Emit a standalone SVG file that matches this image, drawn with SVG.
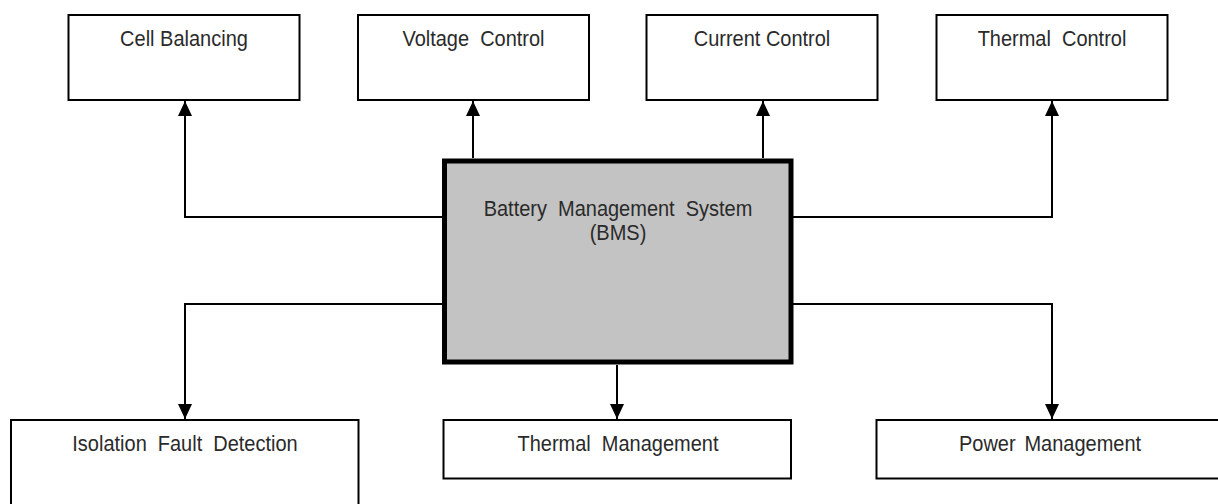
<svg xmlns="http://www.w3.org/2000/svg" width="1218" height="504" viewBox="0 0 1218 504">
  <style>
    .box { fill: #ffffff; stroke: #000000; stroke-width: 2; }
    .main { fill: #c3c3c3; stroke: #000000; stroke-width: 5; }
    .lbl { font-family: "Liberation Sans", Arial, sans-serif; font-size: 21.5px; fill: #2a2a2a; text-anchor: middle; }
    .ws { word-spacing: 5.9px; }
    .ws2 { word-spacing: 3.5px; }
    .conn { fill: none; stroke: #000000; stroke-width: 2; marker-end: url(#arrow); }
  </style>
  <defs>
    <marker id="arrow" markerUnits="userSpaceOnUse" markerWidth="15" markerHeight="14" refX="15" refY="7" orient="auto">
      <path d="M0,0 L15,7 L0,14 Z" fill="#000000"/>
    </marker>
  </defs>
  <rect x="0" y="0" width="1218" height="504" fill="#ffffff"/>

  <g id="connectors">
    <path class="conn" d="M442,217 H185 V101"/>
    <path class="conn" d="M473,158 V101"/>
    <path class="conn" d="M763,158 V101"/>
    <path class="conn" d="M793,217 H1052 V101"/>
    <path class="conn" d="M442,304 H185 V419"/>
    <path class="conn" d="M617,365 V419"/>
    <path class="conn" d="M793,304 H1052 V419"/>
  </g>

  <g id="cell-balancing">
    <rect class="box" x="68.5" y="15" width="231" height="85"/>
    <text class="lbl" transform="matrix(0.93 0 0 1 184 46)">Cell Balancing</text>
  </g>
  <g id="voltage-control">
    <rect class="box" x="358" y="15" width="231" height="85"/>
    <text class="lbl ws" transform="matrix(0.93 0 0 1 473.5 46)">Voltage Control</text>
  </g>
  <g id="current-control">
    <rect class="box" x="646.5" y="15" width="231" height="85"/>
    <text class="lbl" transform="matrix(0.93 0 0 1 762 46)">Current Control</text>
  </g>
  <g id="thermal-control">
    <rect class="box" x="936.5" y="15" width="231" height="85"/>
    <text class="lbl ws" transform="matrix(0.93 0 0 1 1052 46)">Thermal Control</text>
  </g>

  <g id="bms">
    <rect class="main" x="444.5" y="161" width="346.5" height="201"/>
    <text class="lbl ws" transform="matrix(0.93 0 0 1 618 215.5)">Battery Management System</text>
    <text class="lbl" transform="matrix(0.93 0 0 1 618 240)">(BMS)</text>
  </g>

  <g id="isolation-fault-detection">
    <rect class="box" x="11" y="420" width="347.5" height="120"/>
    <text class="lbl ws" transform="matrix(0.93 0 0 1 185 451)">Isolation Fault Detection</text>
  </g>
  <g id="thermal-management">
    <rect class="box" x="443.5" y="420" width="347.5" height="58.5"/>
    <text class="lbl ws" transform="matrix(0.93 0 0 1 618 451)">Thermal Management</text>
  </g>
  <g id="power-management">
    <rect class="box" x="876.5" y="420" width="360" height="58.5"/>
    <text class="lbl ws2" transform="matrix(0.93 0 0 1 1050 451)">Power Management</text>
  </g>
</svg>
